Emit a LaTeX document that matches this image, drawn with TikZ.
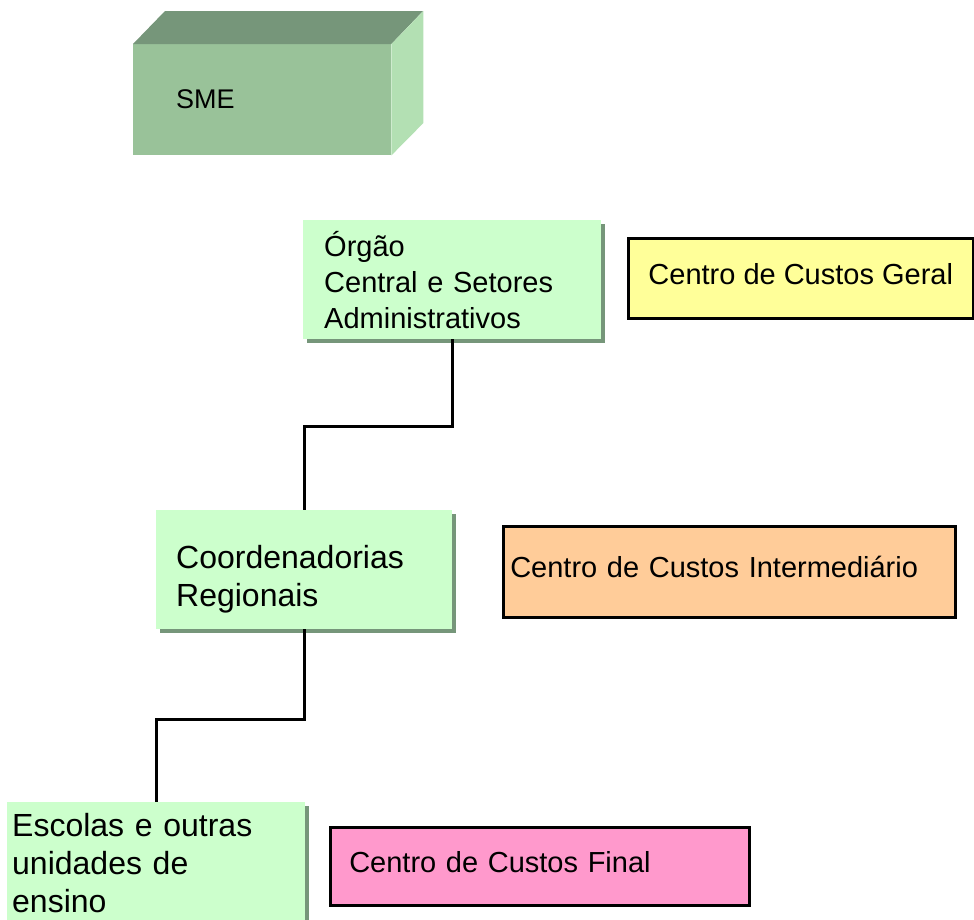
\documentclass[tikz,border=0pt]{standalone}
\usepackage{fontspec}
\setmainfont{Liberation Sans}
\usetikzlibrary{shadows}

\definecolor{boxgreen}{RGB}{204,255,204}
\definecolor{shadowgreen}{RGB}{118,150,122}
\definecolor{smefront}{RGB}{153,194,153}
\definecolor{smetop}{RGB}{118,150,122}
\definecolor{smeside}{RGB}{179,224,179}
\definecolor{geralyellow}{RGB}{255,255,153}
\definecolor{interorange}{RGB}{255,204,153}
\definecolor{finalpink}{RGB}{255,153,204}

\tikzset{
	unitbox/.style = {rectangle, fill = boxgreen, anchor = north west, align = left, inner ysep = 0pt,
		drop shadow = {shadow xshift = 4pt, shadow yshift = -4pt, fill = shadowgreen, opacity = 1},
		font = \fontsize{29}{36}\selectfont},
	bigunit/.style = {unitbox, font = \fontsize{32}{38}\selectfont},
	costbox/.style = {rectangle, draw = black, line width = 2.5pt, anchor = north west, align = left,
		inner ysep = 0pt, text height = 21pt, text depth = 9pt, font = \fontsize{29}{36}\selectfont},
	link/.style = {line width = 3pt}
}

\begin{document}
\begin{tikzpicture}[x = 1pt, y = -1pt]
	\useasboundingbox (0, 0) rectangle (974, 919);
	\clip (0, 0) rectangle (974, 919);
	
	% SME block
	\node[rectangle, fill = smefront, anchor = north west, minimum width = 258pt, minimum height = 111pt,
		text width = 172pt, inner xsep = 43pt, align = left, font = \fontsize{27}{30}\selectfont] (sme) at (133, 44) {SME};
	\fill[smetop] (sme.north west) -- ++(32, -33) -- ++(258, 0) -- (sme.north east) -- cycle;
	\fill[smeside] (sme.north east) -- ++(32, -33) -- ++(0, 112) -- (sme.south east) -- cycle;
	
	% units
	\node[unitbox, minimum width = 298pt, minimum height = 119pt, text width = 256pt, inner xsep = 21pt] (organ) at (303, 220)
		{\rule{0pt}{25pt}Órgão\\Central e Setores\\Administrativos};
	\node[bigunit, minimum width = 296pt, minimum height = 119pt, text width = 256pt, inner xsep = 20pt] (coord) at (156, 510)
		{\rule{0pt}{42pt}Coordenadorias\\Regionais};
	\node[bigunit, minimum width = 298pt, minimum height = 122pt, text width = 288pt, inner xsep = 5pt] (escolas) at (7, 802)
		{Escolas e outras\\unidades de\\ensino};
	
	% cost centres
	\node[costbox, fill = geralyellow, minimum width = 345pt, minimum height = 80pt, inner xsep = 17pt] (geral) at (627, 237)
		{Centro de Custos Geral};
	\node[costbox, fill = interorange, minimum width = 452pt, minimum height = 91pt, text width = 438pt, inner xsep = 7pt] (inter) at (502, 525)
		{Centro de Custos Intermediário};
	\node[costbox, fill = finalpink, minimum width = 419pt, minimum height = 78pt, text width = 381pt, inner xsep = 19pt] (final) at (329, 826)
		{Centro de Custos Final};
	
	\draw[link] (organ.south) -- ++(0, 87) -| (coord.north);
	\draw[link] (coord.south) -- ++(0, 90) -| (escolas.north);
\end{tikzpicture}
\end{document}
